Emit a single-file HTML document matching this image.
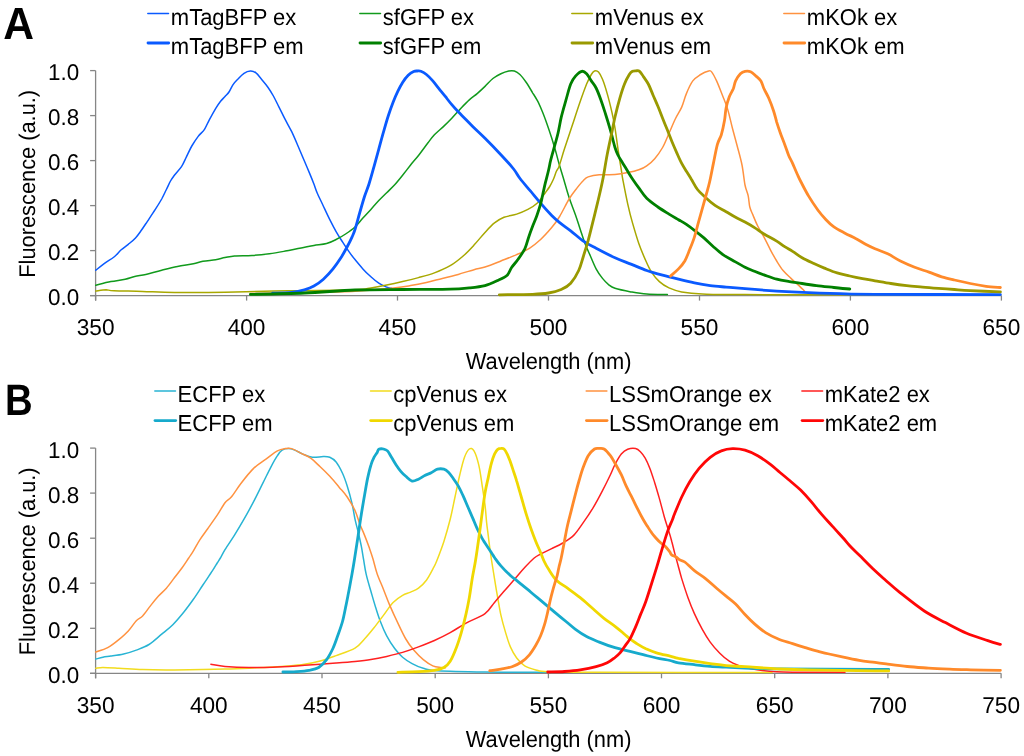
<!DOCTYPE html>
<html><head><meta charset="utf-8"><title>Spectra</title><style>html,body{margin:0;padding:0;background:#fff;overflow:hidden}svg{display:block;will-change:transform}text{text-rendering:geometricPrecision}</style></head><body>
<svg width="1024" height="756" viewBox="0 0 1024 756">
<rect width="1024" height="756" fill="#fff"/>
<path d="M95.6,70.6V300.6" stroke="#868686" stroke-width="1.3" fill="none"/>
<path d="M90.1,295.6H1001.4" stroke="#868686" stroke-width="1.3" fill="none"/>
<path d="M90.1,295.6H95.6" stroke="#868686" stroke-width="1.3"/>
<path d="M90.1,250.6H95.6" stroke="#868686" stroke-width="1.3"/>
<path d="M90.1,205.6H95.6" stroke="#868686" stroke-width="1.3"/>
<path d="M90.1,160.6H95.6" stroke="#868686" stroke-width="1.3"/>
<path d="M90.1,115.6H95.6" stroke="#868686" stroke-width="1.3"/>
<path d="M90.1,70.6H95.6" stroke="#868686" stroke-width="1.3"/>
<path d="M95.6,295.6V300.6" stroke="#868686" stroke-width="1.3"/>
<path d="M246.6,295.6V300.6" stroke="#868686" stroke-width="1.3"/>
<path d="M397.5,295.6V300.6" stroke="#868686" stroke-width="1.3"/>
<path d="M548.5,295.6V300.6" stroke="#868686" stroke-width="1.3"/>
<path d="M699.5,295.6V300.6" stroke="#868686" stroke-width="1.3"/>
<path d="M850.4,295.6V300.6" stroke="#868686" stroke-width="1.3"/>
<path d="M1001.4,295.6V300.6" stroke="#868686" stroke-width="1.3"/>
<path d="M95.6,448.1V678.3" stroke="#868686" stroke-width="1.3" fill="none"/>
<path d="M90.1,673.3H1001.1" stroke="#868686" stroke-width="1.3" fill="none"/>
<path d="M90.1,673.3H95.6" stroke="#868686" stroke-width="1.3"/>
<path d="M90.1,628.3H95.6" stroke="#868686" stroke-width="1.3"/>
<path d="M90.1,583.2H95.6" stroke="#868686" stroke-width="1.3"/>
<path d="M90.1,538.2H95.6" stroke="#868686" stroke-width="1.3"/>
<path d="M90.1,493.1H95.6" stroke="#868686" stroke-width="1.3"/>
<path d="M90.1,448.1H95.6" stroke="#868686" stroke-width="1.3"/>
<path d="M95.6,673.3V678.3" stroke="#868686" stroke-width="1.3"/>
<path d="M208.8,673.3V678.3" stroke="#868686" stroke-width="1.3"/>
<path d="M322.0,673.3V678.3" stroke="#868686" stroke-width="1.3"/>
<path d="M435.2,673.3V678.3" stroke="#868686" stroke-width="1.3"/>
<path d="M548.4,673.3V678.3" stroke="#868686" stroke-width="1.3"/>
<path d="M661.5,673.3V678.3" stroke="#868686" stroke-width="1.3"/>
<path d="M774.7,673.3V678.3" stroke="#868686" stroke-width="1.3"/>
<path d="M887.9,673.3V678.3" stroke="#868686" stroke-width="1.3"/>
<path d="M1001.1,673.3V678.3" stroke="#868686" stroke-width="1.3"/>
<g font-family='"Liberation Sans", sans-serif' font-size="22" fill="#000">
<text transform="translate(79.20,304.65) scale(1.020,1.035)" text-anchor="end">0.0</text>
<text transform="translate(79.20,259.65) scale(1.020,1.035)" text-anchor="end">0.2</text>
<text transform="translate(79.20,214.65) scale(1.020,1.035)" text-anchor="end">0.4</text>
<text transform="translate(79.20,169.65) scale(1.020,1.035)" text-anchor="end">0.6</text>
<text transform="translate(79.20,124.65) scale(1.020,1.035)" text-anchor="end">0.8</text>
<text transform="translate(79.20,79.65) scale(1.020,1.035)" text-anchor="end">1.0</text>
<text transform="translate(79.20,682.75) scale(1.020,1.035)" text-anchor="end">0.0</text>
<text transform="translate(79.20,637.71) scale(1.020,1.035)" text-anchor="end">0.2</text>
<text transform="translate(79.20,592.67) scale(1.020,1.035)" text-anchor="end">0.4</text>
<text transform="translate(79.20,547.63) scale(1.020,1.035)" text-anchor="end">0.6</text>
<text transform="translate(79.20,502.59) scale(1.020,1.035)" text-anchor="end">0.8</text>
<text transform="translate(79.20,457.55) scale(1.020,1.035)" text-anchor="end">1.0</text>
<text transform="translate(95.60,334.65) scale(1.030,1.035)" text-anchor="middle">350</text>
<text transform="translate(246.57,334.65) scale(1.030,1.035)" text-anchor="middle">400</text>
<text transform="translate(397.53,334.65) scale(1.030,1.035)" text-anchor="middle">450</text>
<text transform="translate(548.50,334.65) scale(1.030,1.035)" text-anchor="middle">500</text>
<text transform="translate(699.47,334.65) scale(1.030,1.035)" text-anchor="middle">550</text>
<text transform="translate(850.43,334.65) scale(1.030,1.035)" text-anchor="middle">600</text>
<text transform="translate(1001.40,334.65) scale(1.030,1.035)" text-anchor="middle">650</text>
<text transform="translate(95.60,712.65) scale(1.030,1.035)" text-anchor="middle">350</text>
<text transform="translate(208.79,712.65) scale(1.030,1.035)" text-anchor="middle">400</text>
<text transform="translate(321.98,712.65) scale(1.030,1.035)" text-anchor="middle">450</text>
<text transform="translate(435.16,712.65) scale(1.030,1.035)" text-anchor="middle">500</text>
<text transform="translate(548.35,712.65) scale(1.030,1.035)" text-anchor="middle">550</text>
<text transform="translate(661.54,712.65) scale(1.030,1.035)" text-anchor="middle">600</text>
<text transform="translate(774.73,712.65) scale(1.030,1.035)" text-anchor="middle">650</text>
<text transform="translate(887.91,712.65) scale(1.030,1.035)" text-anchor="middle">700</text>
<text transform="translate(1001.10,712.65) scale(1.030,1.035)" text-anchor="middle">750</text>
<text transform="translate(548.60,369.10) scale(0.995,1.050)" text-anchor="middle">Wavelength (nm)</text>
<text transform="translate(548.60,746.90) scale(0.995,1.050)" text-anchor="middle">Wavelength (nm)</text>
<text transform="translate(34.60,183.80) rotate(-90) scale(1.000,1.040)" text-anchor="middle" font-size="21.80">Fluorescence (a.u.)</text>
<text transform="translate(34.60,561.30) rotate(-90) scale(1.000,1.040)" text-anchor="middle" font-size="21.80">Fluorescence (a.u.)</text>
<text transform="translate(170.80,24.60) scale(1.000,1.050)">mTagBFP ex</text>
<text transform="translate(170.80,54.00) scale(1.000,1.050)">mTagBFP em</text>
<text transform="translate(382.80,24.60) scale(1.000,1.050)">sfGFP ex</text>
<text transform="translate(382.80,54.00) scale(1.000,1.050)">sfGFP em</text>
<text transform="translate(594.80,24.60) scale(1.000,1.050)">mVenus ex</text>
<text transform="translate(594.80,54.00) scale(1.000,1.050)">mVenus em</text>
<text transform="translate(806.80,24.60) scale(1.000,1.050)">mKOk ex</text>
<text transform="translate(806.80,54.00) scale(1.000,1.050)">mKOk em</text>
<text transform="translate(177.60,401.80) scale(1.000,1.050)">ECFP ex</text>
<text transform="translate(177.60,431.30) scale(1.000,1.050)">ECFP em</text>
<text transform="translate(393.30,401.80) scale(1.000,1.050)">cpVenus ex</text>
<text transform="translate(393.30,431.30) scale(1.000,1.050)">cpVenus em</text>
<text transform="translate(609.00,401.80) scale(1.000,1.050)">LSSmOrange ex</text>
<text transform="translate(609.00,431.30) scale(1.000,1.050)">LSSmOrange em</text>
<text transform="translate(824.70,401.80) scale(1.000,1.050)">mKate2 ex</text>
<text transform="translate(824.70,431.30) scale(1.000,1.050)">mKate2 em</text>
</g>
<text transform="translate(3.2,38.6) scale(0.946,1)" font-family='"Liberation Sans", sans-serif' font-weight="bold" font-size="45">A</text>
<text transform="translate(5.0,414.9) scale(0.87,1)" font-family='"Liberation Sans", sans-serif' font-weight="bold" font-size="44">B</text>
<path d="M147.8,13.4H168.5" stroke="#0a5aff" stroke-width="1.50" stroke-linecap="round"/>
<path d="M148.0,43.0H168.7" stroke="#0a5aff" stroke-width="2.80" stroke-linecap="round"/>
<path d="M359.8,13.4H380.5" stroke="#119a1c" stroke-width="1.50" stroke-linecap="round"/>
<path d="M360.0,43.0H380.7" stroke="#008000" stroke-width="2.80" stroke-linecap="round"/>
<path d="M571.8,13.4H592.5" stroke="#a8a800" stroke-width="1.50" stroke-linecap="round"/>
<path d="M572.0,43.0H592.7" stroke="#999900" stroke-width="2.80" stroke-linecap="round"/>
<path d="M783.8,13.4H804.5" stroke="#ff9240" stroke-width="1.50" stroke-linecap="round"/>
<path d="M784.0,43.0H804.7" stroke="#ff8a2a" stroke-width="2.80" stroke-linecap="round"/>
<path d="M154.8,390.9H175.5" stroke="#28b4d4" stroke-width="1.50" stroke-linecap="round"/>
<path d="M155.0,420.6H175.7" stroke="#16aacc" stroke-width="2.80" stroke-linecap="round"/>
<path d="M370.5,390.9H391.2" stroke="#f2dc1e" stroke-width="1.50" stroke-linecap="round"/>
<path d="M370.7,420.6H391.4" stroke="#f0d800" stroke-width="2.80" stroke-linecap="round"/>
<path d="M586.2,390.9H606.9" stroke="#ff9240" stroke-width="1.50" stroke-linecap="round"/>
<path d="M586.4,420.6H607.1" stroke="#ff8a2a" stroke-width="2.80" stroke-linecap="round"/>
<path d="M801.9,390.9H822.6" stroke="#ff2020" stroke-width="1.50" stroke-linecap="round"/>
<path d="M802.1,420.6H822.8" stroke="#ff0606" stroke-width="2.80" stroke-linecap="round"/>
<path d="M95.8,270.2C97.2,269.1 101.5,265.5 104.5,263.3C107.5,261.1 111.2,259.2 114.0,257.0C116.8,254.8 118.8,251.9 121.2,249.8C123.6,247.7 125.9,246.3 128.3,244.3C130.7,242.3 133.4,240.2 135.5,237.9C137.6,235.7 139.0,233.6 141.0,230.8C143.0,228.0 145.0,224.9 147.4,221.3C149.8,217.7 152.9,213.1 155.3,209.4C157.7,205.7 159.8,202.3 161.7,199.0C163.5,195.7 164.9,192.5 166.4,189.5C167.9,186.5 169.2,183.4 170.5,181.0C171.8,178.6 172.6,177.7 174.4,175.3C176.2,172.9 179.5,169.6 181.5,166.6C183.5,163.6 184.6,160.5 186.3,157.1C188.0,153.7 189.8,149.4 191.8,146.0C193.8,142.6 196.1,139.2 198.2,136.4C200.3,133.6 202.7,132.1 204.5,129.3C206.3,126.5 207.5,123.2 209.3,119.8C211.2,116.4 213.8,111.8 215.6,108.7C217.4,105.7 218.8,103.5 220.4,101.5C222.0,99.5 223.6,98.1 225.0,96.5C226.4,94.9 227.7,94.0 229.0,92.0C230.3,90.0 231.5,86.9 232.9,84.8C234.3,82.7 235.8,81.2 237.7,79.3C239.5,77.4 241.9,74.7 244.0,73.3C246.1,71.9 248.4,71.1 250.4,71.0C252.4,70.9 254.2,71.5 256.0,72.9C257.9,74.3 259.5,76.9 261.5,79.3C263.5,81.7 265.9,84.4 267.9,87.2C269.9,90.0 271.5,92.7 273.4,96.0C275.2,99.3 277.1,103.4 279.0,107.1C280.9,110.8 282.4,114.1 284.5,118.2C286.6,122.3 289.4,127.1 291.7,131.7C293.9,136.3 295.9,141.1 298.0,146.0C300.1,150.9 302.5,156.7 304.4,161.0C306.2,165.3 307.5,168.3 309.1,172.1C310.7,175.9 312.6,180.6 313.9,184.0C315.2,187.4 315.5,189.0 317.1,192.7C318.7,196.4 321.3,201.7 323.4,206.2C325.5,210.7 327.7,215.5 329.8,219.7C331.9,223.9 334.0,227.9 336.1,231.6C338.2,235.3 340.4,238.6 342.5,241.9C344.6,245.2 346.7,248.4 348.8,251.4C350.9,254.4 352.6,256.7 355.0,259.6C357.4,262.5 360.2,266.0 362.9,268.9C365.5,271.8 368.2,274.4 370.9,276.8C373.5,279.2 376.2,281.5 378.8,283.2C381.4,284.9 384.6,286.2 386.7,287.1C388.8,288.0 390.7,288.1 391.5,288.3" fill="none" stroke="#0a5aff" stroke-width="1.50" stroke-linejoin="round" stroke-linecap="round"/>
<path d="M95.8,285.2C98.3,284.6 106.0,282.6 110.9,281.6C115.8,280.6 121.2,280.1 125.2,279.2C129.2,278.3 131.3,277.3 134.7,276.5C138.1,275.7 141.3,275.4 145.8,274.4C150.3,273.3 156.4,271.5 161.7,270.2C167.0,268.9 172.2,267.6 177.5,266.5C182.8,265.4 189.2,264.7 193.4,263.8C197.6,262.9 199.2,262.0 202.9,261.3C206.6,260.6 211.9,260.3 215.6,259.7C219.3,259.1 221.8,258.2 225.0,257.6C228.2,257.0 230.0,256.3 234.5,255.9C239.0,255.5 246.2,255.8 252.0,255.4C257.8,255.1 263.8,254.5 269.4,253.8C274.9,253.1 280.0,252.1 285.3,251.1C290.6,250.1 296.4,248.8 301.2,247.9C306.0,247.0 309.7,246.1 313.9,245.4C318.1,244.7 322.9,244.5 326.6,243.5C330.3,242.5 332.9,241.1 336.1,239.5C339.3,237.9 342.5,236.1 345.6,234.0C348.8,231.9 352.1,229.7 355.0,227.0C357.9,224.3 360.2,221.0 362.9,218.1C365.5,215.2 368.2,212.3 370.9,209.4C373.5,206.5 376.2,203.4 378.8,200.6C381.4,197.8 384.1,195.3 386.7,192.7C389.3,190.1 392.0,187.7 394.7,184.8C397.4,181.9 400.0,178.6 402.6,175.3C405.2,172.0 408.0,168.3 410.6,165.0C413.2,161.7 415.6,159.2 418.5,155.5C421.4,151.8 425.4,146.2 428.0,142.8C430.6,139.4 431.8,137.6 434.4,134.8C437.0,132.0 441.0,128.9 443.9,126.1C446.8,123.3 449.1,121.0 451.8,118.2C454.5,115.4 456.9,112.5 459.8,109.4C462.7,106.4 466.4,102.5 469.3,99.9C472.2,97.3 474.6,95.8 477.2,93.6C479.8,91.3 482.4,88.9 485.0,86.4C487.6,83.9 490.2,80.6 492.9,78.5C495.5,76.4 498.2,75.0 500.9,73.7C503.5,72.5 506.6,71.5 508.8,71.0C511.1,70.5 512.5,70.4 514.4,71.0C516.2,71.6 517.9,72.6 519.9,74.5C521.9,76.4 524.2,79.5 526.3,82.5C528.4,85.5 530.8,89.8 532.6,92.8C534.5,95.8 535.8,97.7 537.4,100.7C539.0,103.7 540.5,107.2 542.1,111.0C543.7,114.8 545.3,119.2 546.9,123.7C548.5,128.2 550.1,133.0 551.7,138.0C553.3,143.0 555.1,149.5 556.4,153.9C557.6,158.3 557.9,159.9 559.2,164.3C560.5,168.7 562.4,174.7 564.0,180.2C565.6,185.7 567.2,191.7 569.1,197.5C571.0,203.3 573.6,209.6 575.5,214.9C577.4,220.2 578.6,224.4 580.2,229.2C581.8,234.0 583.4,239.3 585.0,243.5C586.6,247.7 587.9,250.4 589.8,254.6C591.6,258.8 594.0,264.9 596.1,268.9C598.2,272.9 600.4,275.8 602.5,278.4C604.6,281.0 606.7,283.1 608.8,284.8C610.9,286.5 611.3,287.1 615.0,288.3C618.7,289.5 625.6,290.9 630.9,291.9C636.2,292.8 640.6,293.6 646.7,294.0C652.8,294.4 664.0,294.5 667.4,294.6" fill="none" stroke="#119a1c" stroke-width="1.50" stroke-linejoin="round" stroke-linecap="round"/>
<path d="M95.8,291.1C97.5,290.9 103.1,289.9 106.1,289.8C109.1,289.8 107.9,290.5 114.0,290.8C120.1,291.1 132.5,291.1 142.6,291.4C152.7,291.7 160.7,292.3 174.4,292.4C188.1,292.5 206.0,292.5 225.0,292.2C244.0,291.9 266.8,291.2 288.5,290.8C310.2,290.4 341.3,290.3 355.0,289.8C368.7,289.3 365.6,288.7 370.9,287.9C376.2,287.1 381.4,286.2 386.7,285.1C392.0,284.1 397.3,282.9 402.6,281.6C407.9,280.4 413.2,279.1 418.5,277.6C423.8,276.2 429.1,274.9 434.4,272.9C439.7,270.9 445.4,268.5 450.2,265.7C454.9,262.9 458.9,259.6 462.9,256.2C466.9,252.8 470.3,249.1 474.0,245.1C477.7,241.1 481.6,236.1 485.0,232.4C488.4,228.7 491.3,225.4 494.5,222.9C497.7,220.4 500.3,218.8 504.0,217.3C507.7,215.8 512.7,215.4 516.7,214.1C520.7,212.8 524.5,211.2 527.9,209.4C531.3,207.6 534.5,205.8 537.4,203.0C540.3,200.2 543.2,195.4 545.3,192.7C547.3,189.9 548.4,188.7 549.7,186.5C551.0,184.3 552.2,182.0 553.3,179.5C554.4,177.0 555.4,173.6 556.4,171.3C557.4,169.0 557.9,169.6 559.2,165.9C560.5,162.2 562.2,155.9 564.4,149.1C566.6,142.3 569.7,133.2 572.3,125.3C574.9,117.4 577.8,108.4 580.2,101.5C582.6,94.6 584.8,88.5 586.6,84.0C588.5,79.5 590.0,76.7 591.3,74.5C592.6,72.3 593.3,71.4 594.5,71.0C595.7,70.6 597.2,70.7 598.5,72.1C599.8,73.5 601.0,75.7 602.5,79.3C604.0,82.9 605.6,88.0 607.2,93.6C608.8,99.1 610.7,106.9 612.0,112.6C613.3,118.3 614.0,121.7 615.0,128.0C616.0,134.3 617.2,143.7 618.2,150.7C619.2,157.7 620.5,164.9 621.3,169.8C622.1,174.7 621.8,174.3 622.9,180.0C624.0,185.7 626.1,196.7 627.7,203.8C629.3,211.0 630.6,216.3 632.5,222.9C634.4,229.5 636.7,237.4 638.8,243.5C640.9,249.6 643.1,254.6 645.2,259.4C647.3,264.2 649.1,268.4 651.5,272.1C653.9,275.8 656.5,279.0 659.4,281.6C662.3,284.2 665.3,286.2 669.0,287.9C672.7,289.6 676.2,290.9 681.7,291.9C687.2,292.9 691.8,293.6 702.3,294.0C712.8,294.4 695.4,294.4 745.0,294.6C794.6,294.8 957.5,294.9 1000.0,295.0" fill="none" stroke="#a8a800" stroke-width="1.50" stroke-linejoin="round" stroke-linecap="round"/>
<path d="M250.4,293.5C258.7,293.4 282.6,293.2 300.0,292.8C317.4,292.4 339.8,292.1 355.0,291.3C370.2,290.6 382.2,289.2 391.5,288.3C400.8,287.4 404.8,286.6 410.6,285.6C416.4,284.6 421.1,283.6 426.4,282.4C431.7,281.2 437.0,279.7 442.3,278.4C447.6,277.1 452.9,275.8 458.2,274.4C463.5,272.9 469.5,270.9 474.0,269.7C478.5,268.5 480.5,268.4 485.0,267.0C489.5,265.6 495.6,263.1 500.9,261.0C506.2,258.9 512.0,256.7 516.7,254.6C521.5,252.5 525.4,250.8 529.4,248.3C533.4,245.8 536.9,242.9 540.6,239.5C544.3,236.1 548.5,231.4 551.7,227.6C554.9,223.8 556.7,221.3 559.6,216.5C562.5,211.7 566.2,203.8 569.1,199.0C572.0,194.2 574.7,191.0 577.1,187.9C579.5,184.8 581.5,182.3 583.4,180.5C585.2,178.7 585.6,177.8 588.2,176.9C590.9,176.0 594.8,175.2 599.3,174.8C603.8,174.4 610.3,174.9 615.0,174.5C619.7,174.1 623.7,173.4 627.7,172.6C631.7,171.8 635.6,170.9 638.8,169.8C642.0,168.7 644.1,167.7 646.7,165.8C649.4,164.0 652.1,161.8 654.7,158.7C657.4,155.6 660.2,151.7 662.6,147.5C665.0,143.3 666.9,138.1 669.0,133.3C671.1,128.6 673.2,123.4 675.3,119.0C677.4,114.6 679.9,111.3 681.7,107.1C683.6,102.9 684.5,98.0 686.4,93.6C688.2,89.2 690.4,84.1 692.8,80.9C695.2,77.7 698.1,76.2 700.7,74.5C703.4,72.8 706.9,71.4 708.7,71.0C710.6,70.6 710.5,70.4 711.8,72.1C713.1,73.8 714.7,76.8 716.6,80.9C718.5,85.0 721.1,92.0 723.0,96.7C724.9,101.5 726.1,104.1 727.7,109.4C729.3,114.7 730.9,122.4 732.5,128.5C734.1,134.6 735.6,139.9 737.2,146.0C738.8,152.1 740.7,158.5 742.0,165.0C743.3,171.5 744.0,179.8 745.0,185.0C746.0,190.2 747.4,192.2 748.2,195.9C749.0,199.6 749.0,203.8 749.8,207.0C750.6,210.2 751.6,211.7 752.9,214.9C754.2,218.1 755.9,222.3 757.7,226.0C759.6,229.7 761.9,233.1 764.0,237.1C766.1,241.1 768.3,245.8 770.4,249.8C772.5,253.8 774.6,257.6 776.7,261.0C778.8,264.4 780.7,267.6 783.1,270.5C785.5,273.4 788.4,275.9 791.0,278.4C793.6,280.9 796.8,283.5 799.0,285.6C801.2,287.7 803.6,290.2 804.5,291.1" fill="none" stroke="#ff9240" stroke-width="1.50" stroke-linejoin="round" stroke-linecap="round"/>
<path d="M272.6,293.2C275.8,293.1 286.4,293.0 291.7,292.4C297.0,291.8 300.7,290.9 304.4,289.8C308.1,288.7 310.7,287.8 313.9,286.0C317.1,284.2 320.2,282.1 323.4,279.2C326.6,276.3 330.1,272.5 333.0,268.9C335.9,265.3 338.5,261.5 340.9,257.8C343.3,254.1 345.3,250.1 347.2,246.7C349.1,243.2 350.7,240.0 352.0,237.1C353.3,234.2 353.7,233.6 355.0,229.5C356.3,225.4 358.2,218.0 359.8,212.5C361.4,207.0 363.0,201.2 364.5,196.5C366.0,191.8 367.4,189.0 369.0,184.0C370.6,179.0 372.4,172.4 374.0,166.6C375.6,160.8 377.2,154.9 378.8,149.1C380.4,143.3 382.0,137.2 383.6,131.7C385.2,126.1 386.7,120.7 388.3,115.8C389.9,110.9 391.5,106.4 393.1,102.3C394.7,98.2 396.3,94.5 397.9,91.2C399.5,87.9 400.9,85.2 402.6,82.5C404.3,79.8 406.4,77.1 408.2,75.3C410.0,73.5 412.2,72.2 413.7,71.5C415.2,70.8 416.1,71.0 417.3,71.0C418.5,71.0 419.4,70.7 420.9,71.3C422.4,71.9 424.4,72.9 426.4,74.5C428.4,76.1 430.7,78.5 432.8,80.9C434.9,83.3 437.0,86.2 439.1,88.8C441.2,91.4 443.4,94.0 445.5,96.7C447.6,99.4 449.7,102.2 451.8,104.7C453.9,107.2 455.8,109.3 458.2,111.8C460.6,114.3 463.5,117.1 466.1,119.8C468.7,122.5 470.9,124.6 474.0,127.7C477.1,130.8 480.5,133.8 485.0,138.3C489.5,142.8 496.1,149.6 500.9,154.7C505.7,159.8 510.4,165.0 513.6,169.0C516.8,173.0 517.2,174.8 520.0,178.5C522.8,182.2 527.1,187.0 530.6,191.2C534.1,195.4 537.7,199.8 541.2,203.9C544.7,208.0 548.6,212.3 551.7,215.5C554.8,218.7 556.8,220.3 560.0,222.9C563.2,225.5 566.8,227.8 570.7,230.8C574.6,233.8 579.2,238.2 583.4,241.1C587.6,244.0 590.8,245.5 596.1,248.3C601.4,251.1 609.2,255.2 615.0,257.8C620.8,260.4 625.6,262.0 630.9,264.1C636.2,266.2 641.4,268.6 646.7,270.5C652.0,272.4 657.3,273.8 662.6,275.2C667.9,276.6 673.2,277.9 678.5,279.2C683.8,280.5 689.1,281.8 694.4,282.9C699.7,284.0 704.9,284.9 710.2,285.6C715.5,286.3 720.3,286.6 726.1,287.1C731.9,287.6 736.6,288.0 745.0,288.7C753.4,289.4 766.1,290.4 776.7,291.1C787.3,291.8 797.9,292.3 808.5,292.7C819.1,293.1 829.1,293.4 840.2,293.7C851.3,294.0 848.3,294.1 875.0,294.3C901.7,294.5 979.5,294.6 1000.4,294.6" fill="none" stroke="#0a5aff" stroke-width="2.80" stroke-linejoin="round" stroke-linecap="round"/>
<path d="M250.4,294.4C259.4,294.2 287.0,293.7 304.4,293.0C321.8,292.3 338.6,290.6 355.0,290.0C371.4,289.4 386.7,289.6 402.6,289.5C418.5,289.4 439.1,289.5 450.2,289.2C461.3,288.9 463.5,288.5 469.3,287.9C475.1,287.3 480.3,286.8 485.0,285.6C489.7,284.4 494.0,282.2 497.7,280.5C501.4,278.8 504.9,277.4 507.2,275.2C509.5,273.0 509.8,270.1 511.6,267.5C513.4,264.9 515.7,262.6 517.9,259.5C520.1,256.4 523.0,252.4 524.8,248.8C526.6,245.2 527.2,241.5 528.5,237.7C529.8,233.9 531.3,229.8 532.7,226.1C534.1,222.4 535.6,219.2 536.9,215.5C538.2,211.8 539.6,207.4 540.6,203.9C541.6,200.4 542.0,197.8 542.8,194.3C543.6,190.8 544.4,186.8 545.4,182.7C546.4,178.6 547.8,173.6 548.6,170.0C549.5,166.4 549.7,164.2 550.5,161.0C551.3,157.8 552.0,155.3 553.3,150.7C554.5,146.1 556.7,138.9 558.0,133.3C559.3,127.8 559.9,123.0 561.2,117.4C562.5,111.8 564.4,105.5 566.0,99.9C567.6,94.3 569.1,88.0 570.7,84.0C572.3,80.0 573.6,78.2 575.5,76.1C577.4,74.0 579.9,71.7 581.8,71.3C583.6,70.9 585.0,72.1 586.6,73.7C588.2,75.3 589.7,78.5 591.3,80.9C592.9,83.3 594.5,84.8 596.1,88.0C597.7,91.2 599.3,95.5 600.9,99.9C602.5,104.3 604.0,109.2 605.6,114.2C607.2,119.2 608.8,124.5 610.4,130.1C612.0,135.7 613.7,143.3 615.0,147.5C616.3,151.7 616.9,152.8 618.2,155.5C619.5,158.2 621.3,160.8 622.9,163.4C624.5,166.0 626.1,168.7 627.7,171.3C629.3,173.9 630.6,176.2 632.5,179.0C634.4,181.8 636.4,184.7 638.8,187.9C641.2,191.1 643.5,195.1 646.7,198.3C649.9,201.5 654.2,204.4 657.9,207.0C661.6,209.6 665.6,212.0 669.0,214.1C672.4,216.2 675.6,218.0 678.5,219.7C681.4,221.4 683.5,222.4 686.4,224.4C689.3,226.4 693.1,229.3 696.0,231.6C698.9,233.8 701.0,235.4 703.9,237.9C706.8,240.4 710.2,243.9 713.4,246.7C716.6,249.5 719.7,252.3 722.9,254.6C726.1,256.9 728.8,258.1 732.5,260.2C736.2,262.3 741.3,265.3 745.0,267.2C748.7,269.1 751.3,270.0 754.5,271.3C757.7,272.6 760.3,273.6 764.0,274.9C767.7,276.2 772.5,278.1 776.7,279.2C780.9,280.3 785.2,280.9 789.4,281.6C793.6,282.3 797.6,282.8 802.1,283.5C806.6,284.2 811.1,284.9 816.4,285.6C821.7,286.3 828.3,286.9 833.9,287.5C839.5,288.1 847.1,288.8 849.8,289.0" fill="none" stroke="#008000" stroke-width="2.80" stroke-linejoin="round" stroke-linecap="round"/>
<path d="M499.3,294.8C504.9,294.7 524.4,294.6 532.6,294.3C540.8,294.0 543.7,293.8 548.5,293.0C553.3,292.2 557.5,291.1 561.2,289.5C564.9,287.9 567.8,286.4 570.7,283.2C573.6,280.0 576.6,275.0 578.7,270.5C580.8,266.0 581.8,261.2 583.4,256.2C585.0,251.2 586.6,246.1 588.2,240.3C589.8,234.5 591.4,227.7 593.0,221.3C594.6,215.0 596.1,208.9 597.7,202.2C599.3,195.5 600.9,188.9 602.5,181.0C604.1,173.1 605.6,162.7 607.2,154.5C608.8,146.3 610.7,137.9 612.0,131.7C613.3,125.4 613.7,122.6 615.0,117.0C616.3,111.4 618.2,103.8 619.8,98.3C621.4,92.8 622.9,88.0 624.5,84.0C626.1,80.0 628.0,76.6 629.3,74.5C630.6,72.4 631.4,71.9 632.5,71.3C633.6,70.7 634.8,70.8 636.0,70.8C637.2,70.8 638.3,70.3 639.6,71.3C640.9,72.3 642.2,74.8 643.6,76.9C645.0,79.0 646.7,81.0 648.3,84.0C649.9,87.0 651.5,91.5 653.1,95.2C654.7,98.9 656.3,102.5 657.9,106.3C659.5,110.1 661.0,114.2 662.6,118.2C664.2,122.2 665.8,126.1 667.4,130.1C669.0,134.1 670.5,138.2 672.1,142.0C673.7,145.8 675.3,149.5 676.9,153.1C678.5,156.7 680.1,160.4 681.7,163.4C683.3,166.4 684.8,168.7 686.4,171.3C688.0,173.9 689.4,176.0 691.2,179.0C693.1,182.0 695.1,186.4 697.5,189.5C699.9,192.6 702.6,194.8 705.5,197.5C708.4,200.2 711.6,203.0 715.0,205.4C718.4,207.8 722.7,209.7 726.1,211.7C729.5,213.7 732.5,215.6 735.6,217.3C738.8,219.0 741.9,220.4 745.0,222.1C748.1,223.8 751.3,225.6 754.5,227.6C757.7,229.6 760.3,231.8 764.0,234.0C767.7,236.2 773.2,239.0 776.7,241.1C780.2,243.2 782.1,245.0 784.7,246.7C787.4,248.4 789.7,249.6 792.6,251.4C795.5,253.2 798.7,255.8 802.1,257.8C805.5,259.8 809.6,261.6 813.3,263.3C817.0,265.0 820.4,266.5 824.4,268.1C828.4,269.7 832.9,271.6 837.1,272.9C841.3,274.2 845.6,275.0 849.8,276.0C854.0,277.0 858.3,277.9 862.5,278.7C866.7,279.5 870.3,280.0 875.0,280.8C879.7,281.6 885.6,282.7 890.9,283.5C896.2,284.3 901.4,285.0 906.7,285.6C912.0,286.2 917.3,286.6 922.6,287.1C927.9,287.6 933.2,288.0 938.5,288.4C943.8,288.8 949.1,289.1 954.4,289.5C959.7,289.9 962.5,290.2 970.2,290.6C977.9,291.0 995.4,291.7 1000.4,291.9" fill="none" stroke="#999900" stroke-width="2.80" stroke-linejoin="round" stroke-linecap="round"/>
<path d="M670.6,276.0C671.9,274.8 676.1,271.4 678.5,268.9C680.9,266.4 682.9,264.2 684.8,261.0C686.6,257.8 688.0,253.8 689.6,249.8C691.2,245.8 693.0,241.6 694.4,237.1C695.8,232.6 697.0,227.7 698.3,222.9C699.6,218.2 701.0,213.4 702.3,208.6C703.6,203.8 705.1,198.7 706.3,194.3C707.5,189.9 708.4,187.2 709.6,182.0C710.8,176.8 712.1,169.7 713.4,163.4C714.7,157.1 716.1,149.2 717.4,144.4C718.7,139.6 720.1,138.8 721.3,134.8C722.5,130.8 723.7,125.1 724.5,120.6C725.3,116.1 725.3,111.9 726.1,107.9C726.9,103.9 728.1,99.9 729.3,96.7C730.5,93.5 732.2,91.4 733.3,88.8C734.3,86.2 734.4,83.4 735.6,80.9C736.8,78.4 738.8,75.3 740.4,73.7C742.0,72.1 743.3,71.6 745.0,71.3C746.7,71.0 748.8,70.9 750.6,71.7C752.5,72.5 754.4,74.6 756.1,76.1C757.8,77.6 759.6,78.8 760.9,80.9C762.2,83.0 762.7,85.9 764.0,88.8C765.3,91.7 767.2,94.6 768.8,98.3C770.4,102.0 772.3,107.0 773.6,111.0C774.9,115.0 775.7,118.6 776.7,122.1C777.8,125.5 778.6,128.0 779.9,131.7C781.2,135.4 783.2,140.4 784.7,144.4C786.2,148.4 787.4,152.3 788.7,155.5C790.0,158.7 791.2,160.2 792.6,163.4C794.0,166.6 796.0,171.4 797.4,174.5C798.8,177.6 799.1,178.4 801.0,182.0C802.9,185.6 805.7,191.2 808.5,195.9C811.3,200.6 815.1,206.2 818.0,210.2C820.9,214.2 823.4,216.9 826.0,219.7C828.6,222.5 830.7,224.6 833.9,226.8C837.1,229.1 841.3,231.2 845.0,233.2C848.7,235.2 852.7,236.8 856.1,238.7C859.5,240.5 862.5,242.6 865.6,244.3C868.8,246.0 871.3,247.2 875.0,248.8C878.7,250.4 883.5,251.8 887.7,253.8C891.9,255.8 895.9,258.8 900.4,261.0C904.9,263.2 909.9,265.4 914.7,267.3C919.5,269.2 924.5,270.5 929.0,272.1C933.5,273.7 937.5,275.5 941.7,276.8C945.9,278.1 949.6,278.9 954.4,280.0C959.1,281.1 964.9,282.4 970.2,283.5C975.5,284.6 981.1,285.6 986.1,286.3C991.1,287.0 998.0,287.3 1000.4,287.5" fill="none" stroke="#ff8a2a" stroke-width="2.80" stroke-linejoin="round" stroke-linecap="round"/>
<path d="M95.8,659.1C97.0,658.8 100.4,657.7 102.9,657.2C105.4,656.7 107.5,656.6 110.9,656.1C114.4,655.6 119.4,655.0 123.6,654.0C127.8,653.0 132.1,651.7 136.3,650.1C140.5,648.5 144.8,647.1 149.0,644.5C153.2,641.9 157.7,637.5 161.7,634.2C165.7,630.9 169.1,628.4 172.8,624.7C176.5,621.0 180.5,616.2 183.9,612.0C187.3,607.8 190.2,603.8 193.4,599.3C196.6,594.8 199.7,589.8 202.9,585.0C206.1,580.2 210.1,574.4 212.5,570.7C214.9,567.0 215.9,565.1 217.2,563.0C218.5,560.9 219.1,560.2 220.4,558.0C221.7,555.8 222.7,553.5 225.0,549.7C227.3,545.9 231.3,540.2 234.5,535.1C237.7,530.0 240.8,524.8 244.0,519.2C247.2,513.6 250.4,507.8 253.6,501.7C256.8,495.6 260.2,488.5 263.1,482.7C266.0,476.9 268.6,471.3 271.0,466.8C273.4,462.3 275.5,458.5 277.4,455.7C279.2,452.9 280.2,451.3 282.1,450.1C284.0,448.9 286.4,448.6 288.5,448.6C290.6,448.6 292.4,449.2 294.8,450.1C297.2,451.0 299.9,452.9 302.8,454.1C305.7,455.3 308.9,456.9 312.3,457.3C315.7,457.7 320.5,456.5 323.4,456.5C326.3,456.5 327.7,456.4 329.8,457.3C331.9,458.2 334.0,459.4 336.1,462.0C338.2,464.6 340.6,469.2 342.5,473.2C344.4,477.2 345.6,480.9 347.2,485.9C348.8,490.9 350.7,497.8 352.0,503.3C353.3,508.9 354.0,514.4 355.0,519.2C356.0,524.0 357.1,527.4 358.2,531.9C359.2,536.4 360.4,541.7 361.3,546.2C362.2,550.7 362.7,554.4 363.5,559.0C364.3,563.6 364.9,568.5 366.1,573.9C367.3,579.3 369.3,585.8 370.9,591.3C372.5,596.8 374.0,602.2 375.6,607.2C377.2,612.2 378.5,616.7 380.4,621.5C382.2,626.3 384.3,631.3 386.7,635.8C389.1,640.3 392.0,644.9 394.7,648.5C397.4,652.1 399.7,654.7 402.6,657.2C405.5,659.7 408.7,661.8 412.1,663.6C415.6,665.5 419.1,667.1 423.3,668.3C427.5,669.5 427.2,670.1 437.5,670.7C447.8,671.3 466.6,671.7 485.0,672.0C503.4,672.3 537.5,672.2 548.0,672.3" fill="none" stroke="#28b4d4" stroke-width="1.50" stroke-linejoin="round" stroke-linecap="round"/>
<path d="M95.8,668.3C97.0,668.2 99.1,667.5 102.9,667.5C106.7,667.5 112.2,667.9 118.8,668.3C125.4,668.6 133.3,669.3 142.6,669.6C151.9,669.9 160.7,670.0 174.4,669.9C188.1,669.8 211.3,669.5 225.0,669.1C238.7,668.8 246.1,668.3 256.7,667.8C267.3,667.3 280.6,666.5 288.5,665.9C296.4,665.3 299.1,665.1 304.4,664.3C309.7,663.5 314.9,662.3 320.2,660.9C325.5,659.5 330.3,657.7 336.1,655.6C341.9,653.5 350.3,651.0 355.0,648.2C359.7,645.4 361.3,642.4 364.5,639.0C367.7,635.6 370.8,631.8 374.0,627.8C377.2,623.8 380.4,619.3 383.6,615.1C386.8,610.9 389.9,605.7 393.1,602.4C396.3,599.1 399.7,597.0 402.6,595.3C405.5,593.6 408.0,593.3 410.6,592.1C413.2,590.9 415.9,590.2 418.5,588.2C421.1,586.2 424.0,583.4 426.4,580.2C428.8,577.0 431.1,572.3 432.8,569.1C434.5,565.9 434.9,565.6 436.7,561.0C438.5,556.4 441.6,548.4 443.9,541.4C446.1,534.4 448.3,526.6 450.2,519.2C452.1,511.8 453.4,504.4 455.0,497.0C456.6,489.6 458.2,481.3 459.8,474.7C461.4,468.1 462.9,461.6 464.5,457.3C466.1,453.0 467.7,450.1 469.3,449.0C470.9,447.9 472.4,448.2 474.0,450.9C475.6,453.6 477.5,459.6 478.8,465.2C480.1,470.8 481.0,477.7 482.0,484.3C483.0,490.9 484.2,498.6 485.0,505.0C485.8,511.4 486.1,517.4 486.6,522.4C487.1,527.4 487.7,530.9 488.2,535.1C488.7,539.3 489.2,543.6 489.8,547.8C490.4,551.9 490.7,554.9 491.5,560.0C492.3,565.1 493.5,572.3 494.5,578.6C495.5,584.9 496.6,591.6 497.7,597.7C498.8,603.8 499.6,609.3 500.9,615.1C502.2,620.9 504.0,627.3 505.6,632.6C507.2,637.9 508.5,642.7 510.4,646.9C512.2,651.1 514.3,654.8 516.7,658.0C519.1,661.2 521.5,663.9 524.7,665.9C527.9,667.9 531.8,668.9 535.8,669.9C539.8,670.9 537.8,671.3 548.5,671.7C559.2,672.1 562.8,672.2 600.0,672.3C637.2,672.4 743.3,672.5 772.0,672.5" fill="none" stroke="#f2dc1e" stroke-width="1.50" stroke-linejoin="round" stroke-linecap="round"/>
<path d="M95.8,652.0C97.8,651.3 103.9,649.8 107.7,647.7C111.5,645.7 115.4,642.5 118.8,639.7C122.2,636.9 125.4,634.2 128.3,631.0C131.2,627.8 133.9,623.2 136.3,620.7C138.7,618.2 140.2,618.4 142.6,615.9C145.0,613.4 147.9,608.9 150.6,605.6C153.2,602.3 155.9,599.0 158.5,596.1C161.1,593.2 163.8,591.2 166.4,588.2C169.1,585.2 171.8,581.2 174.4,577.8C177.1,574.3 179.9,570.8 182.3,567.5C184.7,564.2 186.8,560.8 188.7,558.0C190.5,555.2 191.6,553.9 193.4,550.9C195.2,547.9 197.4,543.5 199.8,539.8C202.2,536.1 204.8,532.8 207.7,528.7C210.6,524.6 214.3,519.5 217.2,515.2C220.1,510.9 222.7,505.8 225.0,502.8C227.3,499.8 228.7,500.2 231.3,497.0C234.0,493.8 237.2,488.3 240.9,483.5C244.6,478.7 249.4,472.5 253.6,468.4C257.8,464.3 262.3,461.8 266.3,458.9C270.3,456.0 274.2,452.6 277.4,450.9C280.6,449.2 282.9,449.0 285.3,448.6C287.7,448.2 289.1,447.8 291.7,448.6C294.3,449.4 298.0,451.7 301.2,453.3C304.4,454.9 307.5,455.9 310.7,458.1C313.9,460.4 317.0,463.8 320.2,466.8C323.4,469.8 326.6,472.9 329.8,476.3C333.0,479.7 336.4,483.9 339.3,487.4C342.2,490.8 344.6,493.1 347.2,497.0C349.8,500.9 352.9,506.0 355.0,510.5C357.1,515.0 358.2,519.9 359.8,524.0C361.4,528.1 362.9,531.1 364.5,535.1C366.1,539.1 367.9,543.8 369.3,547.8C370.7,551.8 371.7,554.6 373.0,559.0C374.3,563.4 375.4,568.8 377.2,573.9C379.0,579.0 381.5,584.4 383.6,589.7C385.7,595.0 387.5,600.0 389.9,605.6C392.3,611.2 395.2,617.5 397.9,623.1C400.5,628.7 403.2,634.5 405.8,639.0C408.4,643.5 410.8,646.7 413.7,650.1C416.6,653.5 420.1,657.0 423.3,659.6C426.5,662.2 429.9,664.6 432.8,665.9C435.7,667.2 438.6,667.2 440.7,667.5C442.8,667.8 444.7,667.8 445.5,667.8" fill="none" stroke="#ff9240" stroke-width="1.50" stroke-linejoin="round" stroke-linecap="round"/>
<path d="M210.9,664.3C213.2,664.6 218.7,665.9 225.0,666.4C231.3,666.9 240.9,667.4 248.8,667.5C256.7,667.6 264.7,667.5 272.6,667.2C280.5,666.9 288.5,666.4 296.4,665.9C304.3,665.4 313.6,664.8 320.2,664.3C326.8,663.8 330.3,663.5 336.1,663.1C341.9,662.7 349.2,662.2 355.0,661.6C360.8,661.0 365.6,660.5 370.9,659.6C376.2,658.7 381.4,657.6 386.7,656.4C392.0,655.2 397.3,654.0 402.6,652.4C407.9,650.8 413.2,648.9 418.5,646.9C423.8,644.9 429.1,642.9 434.4,640.5C439.7,638.1 444.9,635.5 450.2,632.6C455.5,629.7 460.3,626.3 466.1,623.1C471.9,619.9 480.3,617.1 485.0,613.6C489.7,610.1 491.3,606.1 494.5,602.4C497.7,598.7 500.6,595.3 504.0,591.3C507.4,587.3 511.8,582.6 515.2,578.6C518.7,574.6 521.5,570.9 524.7,567.5C527.9,564.1 531.6,560.2 534.2,558.0C536.9,555.8 537.7,555.7 540.6,554.1C543.5,552.5 548.0,550.5 551.7,548.6C555.4,546.8 559.1,545.2 562.8,543.0C566.5,540.8 570.5,538.5 573.9,535.1C577.3,531.7 580.2,526.9 583.4,522.4C586.6,517.9 589.7,513.4 592.9,508.1C596.1,502.8 599.6,496.2 602.5,490.6C605.4,485.0 608.3,479.1 610.4,474.7C612.5,470.3 613.2,467.9 615.0,464.5C616.8,461.1 619.2,456.6 621.3,454.1C623.4,451.6 625.3,450.2 627.7,449.3C630.1,448.4 633.5,448.2 635.6,448.6C637.7,449.0 638.8,450.1 640.4,451.7C642.0,453.3 643.6,455.3 645.2,458.1C646.8,460.9 648.3,464.3 649.9,468.4C651.5,472.5 653.1,477.7 654.7,482.7C656.3,487.7 657.8,493.0 659.4,498.6C661.0,504.2 662.7,511.1 664.2,516.5C665.7,521.9 667.4,526.6 668.6,530.7C669.9,534.8 670.7,537.3 671.7,541.2C672.8,545.1 673.8,549.9 674.9,553.9C676.0,557.9 677.0,561.4 678.1,565.5C679.2,569.6 680.1,573.2 681.7,578.6C683.4,584.0 685.9,591.9 688.0,597.7C690.1,603.5 692.0,608.3 694.4,613.6C696.8,618.9 699.7,624.6 702.3,629.4C704.9,634.1 707.3,638.1 710.2,642.1C713.1,646.1 716.6,650.0 719.8,653.2C723.0,656.4 726.1,659.1 729.3,661.2C732.5,663.3 736.2,664.6 738.8,665.6C741.4,666.6 738.7,666.5 745.0,667.5C751.3,668.5 760.0,671.0 776.7,671.8C793.4,672.6 833.6,672.2 845.0,672.3" fill="none" stroke="#ff2020" stroke-width="1.50" stroke-linejoin="round" stroke-linecap="round"/>
<path d="M282.9,672.0C285.1,672.0 292.0,672.0 296.4,671.7C300.8,671.4 305.4,671.1 309.1,670.4C312.8,669.7 315.8,669.3 318.7,667.5C321.6,665.7 324.2,662.8 326.6,659.6C329.0,656.4 331.0,652.5 332.9,648.5C334.8,644.5 336.1,640.3 337.7,635.8C339.3,631.3 341.2,626.3 342.5,621.5C343.8,616.7 344.6,612.2 345.6,607.2C346.7,602.2 347.7,596.8 348.8,591.3C349.9,585.8 351.0,579.4 352.0,573.9C353.0,568.4 353.6,565.0 354.6,558.5C355.6,552.0 357.1,542.5 358.2,535.1C359.3,527.8 360.2,521.0 361.3,514.4C362.4,507.8 363.4,501.5 364.5,495.4C365.6,489.3 366.6,482.9 367.7,477.9C368.8,472.9 369.8,468.6 370.9,465.2C371.9,461.8 372.9,459.4 374.0,457.3C375.1,455.2 376.4,453.8 377.2,452.5C378.0,451.2 377.7,449.9 378.8,449.3C379.9,448.7 382.2,448.7 383.6,449.0C385.1,449.3 386.2,449.5 387.5,450.9C388.8,452.3 390.0,454.9 391.5,457.3C393.0,459.7 394.7,462.8 396.3,465.2C397.9,467.6 399.4,469.8 401.0,471.6C402.6,473.5 403.9,474.7 405.8,476.3C407.7,477.9 410.0,480.6 412.1,481.1C414.2,481.6 416.4,480.1 418.5,479.2C420.6,478.3 422.7,476.6 424.8,475.5C426.9,474.4 429.1,473.9 431.2,472.8C433.3,471.8 435.4,469.8 437.5,469.2C439.6,468.6 442.0,468.7 443.9,469.2C445.8,469.7 447.1,470.8 448.7,472.4C450.3,474.0 451.8,476.4 453.4,478.7C455.0,480.9 456.6,483.1 458.2,485.9C459.8,488.7 461.3,492.0 462.9,495.4C464.5,498.8 466.1,502.8 467.7,506.5C469.3,510.2 470.9,513.9 472.5,517.6C474.1,521.3 475.6,525.3 477.2,528.7C478.8,532.1 480.7,535.8 482.0,538.2C483.3,540.6 483.4,540.6 485.0,543.0C486.6,545.4 489.7,550.1 491.3,552.5C492.9,554.9 492.9,555.3 494.5,557.5C496.1,559.7 498.2,562.9 500.9,565.9C503.5,568.9 507.5,572.9 510.4,575.5C513.3,578.1 515.4,579.4 518.3,581.8C521.2,584.2 524.7,587.1 527.9,589.7C531.1,592.4 534.2,595.1 537.4,597.7C540.6,600.4 543.7,603.0 546.9,605.6C550.1,608.2 553.2,611.0 556.4,613.6C559.6,616.2 562.8,618.9 566.0,621.5C569.2,624.1 572.1,626.9 575.5,629.4C578.9,631.9 582.6,634.5 586.6,636.6C590.6,638.7 594.6,640.2 599.3,642.1C604.0,644.0 609.9,646.2 615.0,647.7C620.1,649.2 625.3,650.2 630.0,651.4C634.7,652.6 638.8,653.6 643.2,654.7C647.6,655.8 652.0,657.0 656.5,658.0C661.0,659.0 666.3,659.7 670.0,660.5C673.7,661.3 674.4,662.1 678.5,662.8C682.6,663.5 689.1,664.1 694.4,664.7C699.7,665.3 704.9,665.9 710.2,666.3C715.5,666.7 720.3,666.9 726.1,667.2C731.9,667.5 736.6,667.7 745.0,668.0C753.4,668.3 755.0,668.7 776.7,668.9C798.4,669.1 856.3,669.2 875.0,669.3C893.7,669.4 886.4,669.5 888.7,669.5" fill="none" stroke="#16aacc" stroke-width="2.80" stroke-linejoin="round" stroke-linecap="round"/>
<path d="M397.9,672.3C401.3,672.2 412.4,672.0 418.5,671.7C424.6,671.4 430.2,671.1 434.4,670.4C438.6,669.7 441.3,669.0 443.9,667.5C446.5,666.0 448.1,664.6 450.2,661.2C452.3,657.8 454.8,651.7 456.6,646.9C458.5,642.1 459.7,638.1 461.3,632.6C462.9,627.1 464.8,619.4 466.1,613.6C467.4,607.8 468.2,603.8 469.3,597.7C470.4,591.6 471.4,583.3 472.5,577.0C473.6,570.7 474.6,566.5 475.6,560.0C476.7,553.5 477.7,545.8 478.8,538.2C479.9,530.6 481.0,521.9 482.0,514.4C483.0,506.9 484.0,499.1 485.0,493.0C486.0,486.9 487.1,482.8 488.2,477.9C489.2,473.0 490.2,467.6 491.3,463.6C492.4,459.6 493.4,456.5 494.5,454.1C495.6,451.7 496.6,450.2 497.7,449.3C498.8,448.4 499.9,448.4 501.0,448.4C502.1,448.3 503.0,448.1 504.0,449.0C505.0,449.9 506.1,451.9 507.2,454.1C508.3,456.3 509.3,459.1 510.4,462.0C511.5,464.9 512.5,468.4 513.6,471.6C514.7,474.8 515.7,477.7 516.7,481.1C517.8,484.5 518.8,488.5 519.9,492.2C521.0,495.9 522.0,499.6 523.1,503.3C524.2,507.0 525.0,510.2 526.3,514.4C527.6,518.6 529.4,524.2 531.0,528.7C532.6,533.2 534.2,537.4 535.8,541.4C537.4,545.4 539.2,549.2 540.6,552.5C542.0,555.8 542.7,558.2 544.0,561.0C545.3,563.8 546.4,565.9 548.5,569.1C550.6,572.3 553.2,577.0 556.4,580.2C559.6,583.4 563.5,585.3 567.5,588.2C571.5,591.1 576.0,594.3 580.2,597.7C584.5,601.1 589.0,605.4 593.0,608.8C597.0,612.2 600.3,615.4 604.0,618.3C607.7,621.2 611.6,623.6 615.0,626.3C618.4,628.9 622.0,632.1 624.5,634.2C627.0,636.3 628.0,637.4 630.0,638.9C632.0,640.4 634.0,641.9 636.6,643.5C639.2,645.1 642.6,647.2 645.9,648.8C649.2,650.3 652.5,651.6 656.5,652.8C660.5,654.0 666.3,655.2 670.0,656.1C673.7,657.0 674.4,657.4 678.5,658.3C682.6,659.1 689.1,660.3 694.4,661.2C699.7,662.1 704.9,662.9 710.2,663.6C715.5,664.3 720.3,665.1 726.1,665.6C731.9,666.1 736.6,666.2 745.0,666.7C753.4,667.2 766.1,668.3 776.7,668.8C787.3,669.3 792.1,669.6 808.5,669.9C824.9,670.2 861.6,670.6 875.0,670.8C888.4,671.0 886.4,670.9 888.7,670.9" fill="none" stroke="#f0d800" stroke-width="2.80" stroke-linejoin="round" stroke-linecap="round"/>
<path d="M489.8,670.7C491.6,670.4 497.2,669.8 500.9,669.1C504.6,668.4 508.6,667.9 512.0,666.7C515.4,665.5 518.6,664.0 521.5,662.0C524.4,660.0 527.0,657.6 529.4,654.8C531.8,652.0 533.9,648.5 535.8,645.3C537.7,642.1 539.1,639.2 540.6,635.8C542.1,632.4 543.3,628.7 544.5,624.7C545.7,620.7 546.8,616.0 547.7,612.0C548.6,608.0 549.3,604.4 550.1,600.9C550.9,597.4 551.7,594.2 552.5,591.3C553.3,588.4 554.0,586.0 554.8,583.4C555.6,580.8 556.5,578.2 557.2,575.5C557.9,572.8 558.3,569.9 559.0,567.0C559.7,564.1 560.3,562.2 561.2,558.0C562.1,553.8 563.4,546.9 564.4,541.5C565.4,536.1 566.3,530.8 567.5,525.5C568.7,520.2 570.2,515.0 571.5,509.7C572.8,504.4 574.2,498.8 575.5,493.8C576.8,488.8 578.1,484.0 579.4,479.5C580.7,475.0 581.9,470.8 583.4,466.8C584.9,462.8 586.4,458.7 588.2,455.7C590.1,452.7 592.7,450.2 594.5,449.0C596.3,447.8 597.4,448.4 599.0,448.4C600.6,448.4 602.1,447.8 604.0,449.0C605.9,450.2 608.6,453.3 610.4,455.7C612.2,458.1 613.2,460.0 615.0,463.2C616.8,466.4 619.4,470.9 621.3,474.7C623.1,478.5 624.5,482.4 626.1,485.9C627.7,489.3 629.0,491.7 630.9,495.4C632.8,499.1 635.2,504.1 637.2,508.1C639.2,512.1 641.5,516.5 643.2,519.5C644.9,522.5 646.0,524.1 647.4,526.3C648.8,528.5 650.2,530.8 651.6,532.7C653.0,534.7 654.3,536.2 655.9,538.0C657.5,539.8 659.6,541.9 661.2,543.3C662.8,544.7 664.0,545.1 665.4,546.5C666.8,547.9 668.5,550.3 669.6,551.7C670.7,553.1 670.6,554.0 671.7,554.9C672.8,555.8 674.6,556.1 676.0,557.0C677.4,557.9 678.5,559.2 680.0,560.0C681.5,560.8 682.4,560.2 684.8,562.0C687.2,563.8 690.9,567.9 694.4,570.7C697.9,573.5 701.8,575.7 705.5,578.6C709.2,581.5 713.2,585.3 716.6,588.2C720.0,591.1 722.9,593.5 726.1,596.1C729.3,598.7 732.5,600.9 735.6,604.0C738.8,607.1 741.9,611.2 745.0,614.5C748.1,617.8 751.1,620.9 754.5,623.9C757.9,626.9 761.6,630.1 765.6,632.6C769.6,635.1 773.8,637.1 778.3,639.0C782.8,640.9 788.1,642.2 792.6,643.7C797.1,645.2 801.3,646.5 805.3,647.7C809.3,648.9 812.4,649.9 816.4,650.9C820.4,651.9 824.6,653.0 829.1,654.0C833.6,655.0 838.4,656.1 843.4,657.2C848.4,658.3 854.0,659.5 859.3,660.4C864.6,661.3 870.5,661.8 875.0,662.4C879.5,663.0 880.8,663.2 886.2,663.9C891.6,664.6 900.2,665.8 907.3,666.5C914.3,667.2 921.4,667.6 928.5,668.1C935.6,668.6 942.7,668.9 949.7,669.2C956.8,669.5 962.3,669.6 970.8,669.8C979.2,670.0 995.5,670.2 1000.4,670.3" fill="none" stroke="#ff8a2a" stroke-width="2.80" stroke-linejoin="round" stroke-linecap="round"/>
<path d="M547.7,672.0C550.5,671.9 559.0,671.9 564.4,671.5C569.8,671.1 574.9,670.7 580.2,669.9C585.5,669.1 591.6,667.9 596.1,666.7C600.6,665.5 604.1,664.3 607.2,662.8C610.4,661.3 612.9,659.1 615.0,657.5C617.1,655.9 618.1,655.1 620.0,652.9C621.9,650.7 624.6,646.4 626.3,644.1C628.0,641.8 628.5,641.6 630.0,638.9C631.5,636.1 633.5,631.7 635.3,627.6C637.1,623.5 638.8,618.8 640.6,614.4C642.4,610.0 644.1,606.4 645.9,601.2C647.7,596.1 649.8,589.3 651.6,583.5C653.4,577.7 655.1,572.4 656.9,566.6C658.7,560.8 660.4,554.4 662.2,548.6C664.0,542.8 665.8,536.4 667.5,531.6C669.2,526.8 671.1,522.9 672.3,520.0C673.5,517.1 672.9,517.8 674.5,514.0C676.1,510.2 679.2,502.3 681.7,497.0C684.2,491.7 686.7,486.8 689.6,482.0C692.5,477.2 695.7,472.5 699.1,468.4C702.5,464.3 706.5,460.2 710.2,457.3C713.9,454.4 717.6,452.3 721.3,450.9C725.0,449.4 728.5,448.7 732.5,448.6C736.5,448.5 740.8,448.9 745.0,450.1C749.2,451.3 753.5,453.3 757.7,455.7C761.9,458.1 766.7,461.6 770.4,464.4C774.1,467.2 776.7,469.8 780.0,472.5C783.3,475.2 786.6,477.9 790.0,480.8C793.4,483.7 797.1,486.6 800.6,490.1C804.1,493.6 807.7,497.6 811.2,501.7C814.7,505.8 818.2,510.3 821.7,514.4C825.2,518.5 828.8,522.2 832.3,526.1C835.8,530.0 839.9,534.4 842.9,537.7C845.9,541.0 847.2,543.0 850.0,546.0C852.8,549.0 855.9,551.8 859.7,555.6C863.5,559.4 868.5,564.6 872.9,568.8C877.3,573.0 881.6,576.7 886.1,580.7C890.6,584.7 893.6,587.6 900.0,592.6C906.4,597.6 916.7,606.0 924.3,611.0C931.9,616.0 938.3,618.9 945.4,622.6C952.5,626.3 959.5,630.2 966.6,633.2C973.7,636.2 982.2,638.7 987.8,640.6C993.4,642.5 998.3,643.8 1000.4,644.4" fill="none" stroke="#ff0606" stroke-width="2.80" stroke-linejoin="round" stroke-linecap="round"/>
</svg>
</body></html>
